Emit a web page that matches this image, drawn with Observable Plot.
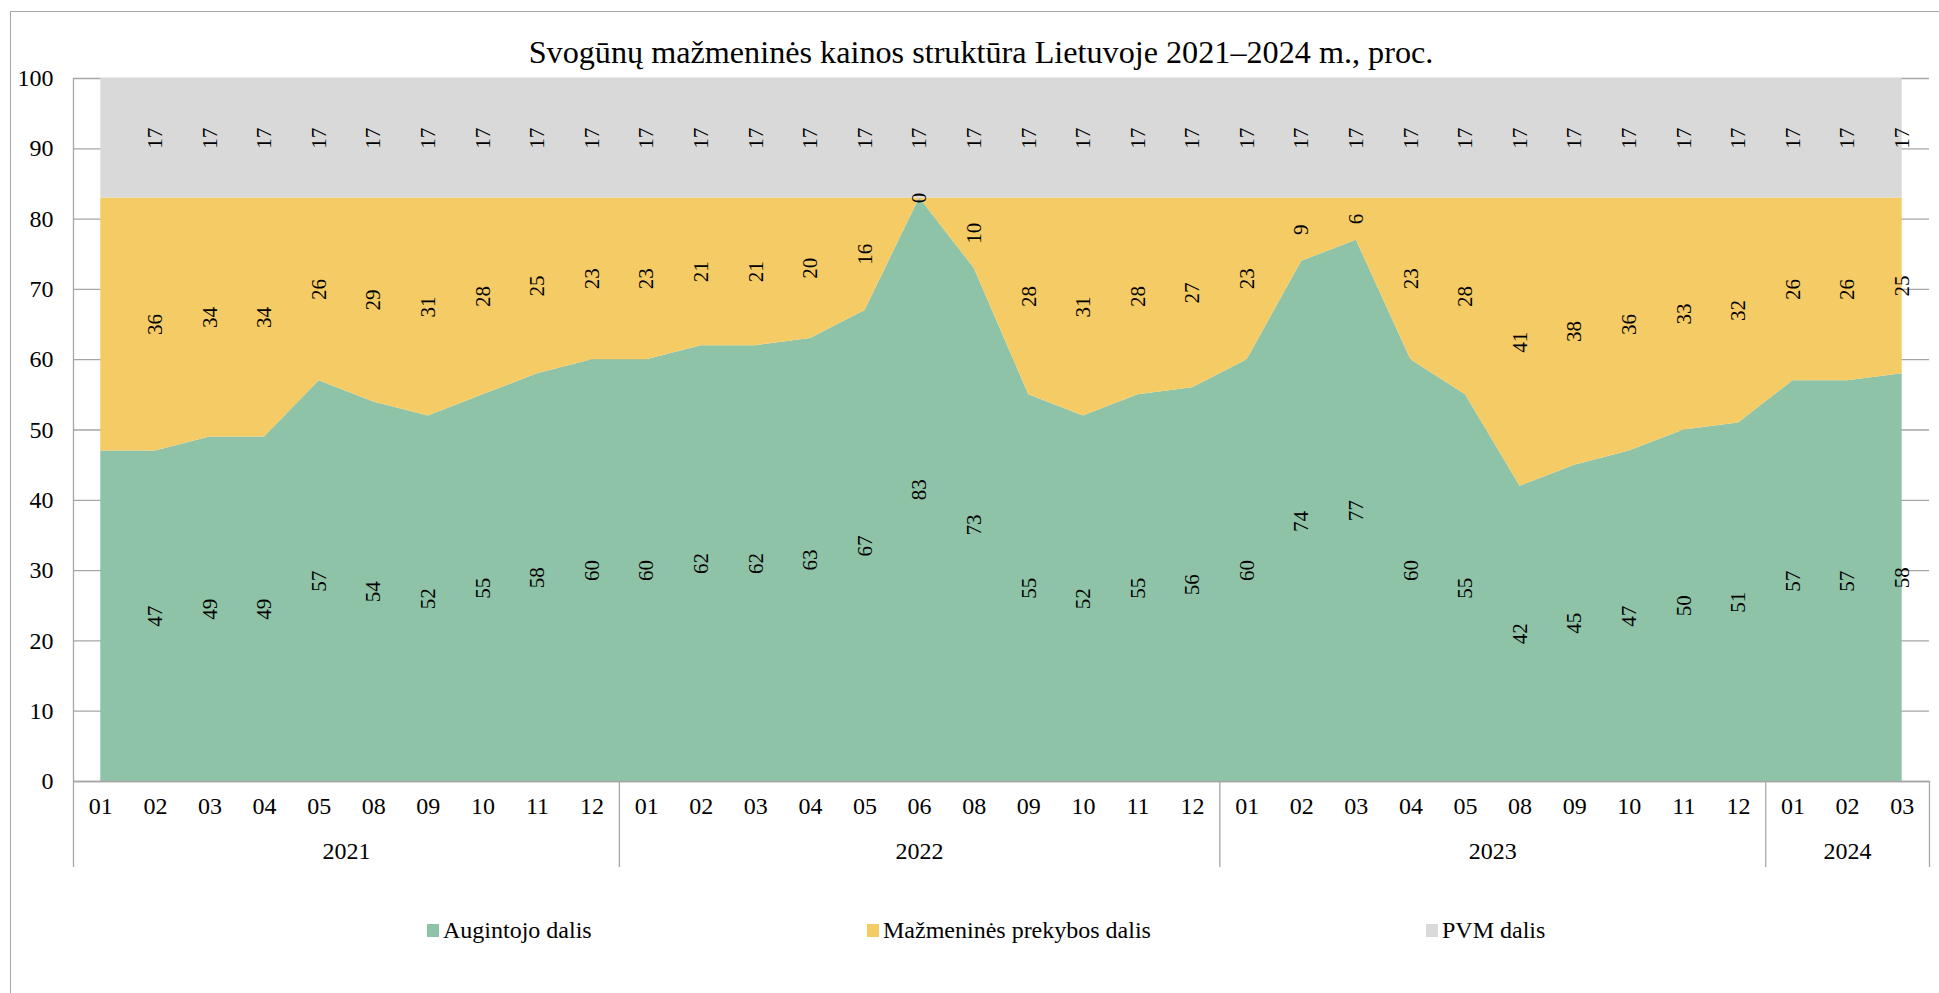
<!DOCTYPE html>
<html><head><meta charset="utf-8">
<script src="https://cdn.jsdelivr.net/npm/d3@7"></script>
<script src="https://cdn.jsdelivr.net/npm/@observablehq/plot@0.6"></script>
<style>
html,body{margin:0;padding:0;background:#fff;overflow:hidden;width:1939px;height:993px;}
#frame{position:absolute;left:10px;top:11px;width:1960px;height:1000px;border-left:1.5px solid #a6a6a6;border-top:1.5px solid #a6a6a6;}
#title{position:absolute;left:0;width:1962px;top:34px;line-height:36px;text-align:center;font-family:"Liberation Serif";font-size:32.2px;color:#000;white-space:nowrap;}
#chart{position:absolute;left:0;top:0;}
.leg{position:absolute;top:916px;line-height:28px;font-family:"Liberation Serif";font-size:24px;display:flex;align-items:center;color:#000;white-space:nowrap;}
.sw{width:12px;height:13px;margin-right:4px;}
</style></head>
<body>
<div id="frame"></div>
<div id="title">Svogūnų mažmeninės kainos struktūra Lietuvoje 2021–2024 m., proc.</div>
<div id="chart"></div>
<div id="legend"></div>
<script>
// ---- data ----
const periodYear = [
  "2021","2021","2021","2021","2021","2021","2021","2021","2021","2021",
  "2022","2022","2022","2022","2022","2022","2022","2022","2022","2022","2022",
  "2023","2023","2023","2023","2023","2023","2023","2023","2023","2023",
  "2024","2024","2024"];
const periodMonth = [
  "01","02","03","04","05","08","09","10","11","12",
  "01","02","03","04","05","06","08","09","10","11","12",
  "01","02","03","04","05","08","09","10","11","12",
  "01","02","03"];
const augintojoDalis = [
  47,47,49,49,57,54,52,55,58,60,
  60,62,62,63,67,83,73,55,52,55,56,
  60,74,77,60,55,42,45,47,50,51,
  57,57,58];
const mazmeninesDalis = [
  36,36,34,34,26,29,31,28,25,23,
  23,21,21,20,16,0,10,28,31,28,27,
  23,9,6,23,28,41,38,36,33,32,
  26,26,25];
const pvmDalis = [
  17,17,17,17,17,17,17,17,17,17,
  17,17,17,17,17,17,17,17,17,17,17,
  17,17,17,17,17,17,17,17,17,17,
  17,17,17];
const seriesNames = ["Augintojo dalis","Mažmeninės prekybos dalis","PVM dalis"];
const seriesColors = ["#8EC3A7","#F4CB65","#D9D9D9"];
const yTicks = [0,10,20,30,40,50,60,70,80,90,100];
// first period carries no data labels in the original
const labelled = [false,
  true,true,true,true,true,true,true,true,true,
  true,true,true,true,true,true,true,true,true,true,true,
  true,true,true,true,true,true,true,true,true,true,
  true,true,true];

// ---- derived tables ----
const n = periodMonth.length;
const seriesValues = [augintojoDalis, mazmeninesDalis, pvmDalis];
const rows = [];
for (let i = 0; i < n; i++) {
  seriesNames.forEach((s, k) => rows.push({i, series: s, value: seriesValues[k][i], show: labelled[i]}));
}
const yearNames = [...new Set(periodYear)];
const yearGroups = yearNames.map(y => {
  const idx = d3.range(n).filter(i => periodYear[i] === y);
  return {year: y, first: d3.min(idx), last: d3.max(idx), center: (d3.min(idx) + d3.max(idx)) / 2};
});
const boundaries = [yearGroups[0].first - 0.5, ...yearGroups.map(g => g.last + 0.5)];

const gridColor = "#A6A6A6";
const chart = Plot.plot({
  width: 1939,
  height: 880,
  marginLeft: 73,
  marginRight: 10,
  marginTop: 78,
  marginBottom: 99,
  style: {fontFamily: "Liberation Serif", fontSize: "24px", color: "#000", background: "transparent"},
  x: {type: "linear", domain: [-0.5, n - 0.5], axis: null},
  y: {domain: [0, 100], axis: null},
  color: {domain: seriesNames, range: seriesColors},
  marks: [
    Plot.ruleY(yTicks, {stroke: gridColor, strokeWidth: 1.3}),
    Plot.areaY(rows, {x: "i", y: "value", fill: "series", z: "series", order: seriesNames, curve: "linear"}),
    Plot.ruleX([boundaries[0]], {stroke: gridColor, strokeWidth: 1.3}),
    Plot.ruleY([0], {stroke: gridColor, strokeWidth: 1.3}),
    Plot.ruleX(boundaries, {y1: 0, y2: 0, insetBottom: -86, stroke: gridColor, strokeWidth: 1.3}),
    Plot.axisY({ticks: yTicks, tickSize: 0, tickPadding: 20, fontSize: 24, label: null, tickFormat: d => String(d)}),
    Plot.axisX({ticks: d3.range(n), tickSize: 0, tickPadding: 15, fontSize: 24, label: null, tickFormat: i => periodMonth[i]}),
    Plot.text(yearGroups, {x: "center", text: "year", frameAnchor: "bottom", dy: 70, fontSize: 24, lineAnchor: "middle"}),
    Plot.text(rows, Plot.stackY({
      x: "i", y: "value", z: "series", order: seriesNames,
      filter: d => d.show,
      text: d => String(d.value),
      rotate: -90, fontSize: 21, fill: "#000", textAnchor: "middle", lineAnchor: "middle"
    }))
  ]
});
document.getElementById("chart").appendChild(chart);

// legend
const legendLeft = [427, 867, 1426];
const legend = document.getElementById("legend");
seriesNames.forEach((s, k) => {
  const item = document.createElement("div");
  item.className = "leg";
  item.style.left = legendLeft[k] + "px";
  const sw = document.createElement("span");
  sw.className = "sw";
  sw.style.background = seriesColors[k];
  const t = document.createElement("span");
  t.textContent = s;
  item.appendChild(sw); item.appendChild(t);
  legend.appendChild(item);
});
</script>
</body></html>
